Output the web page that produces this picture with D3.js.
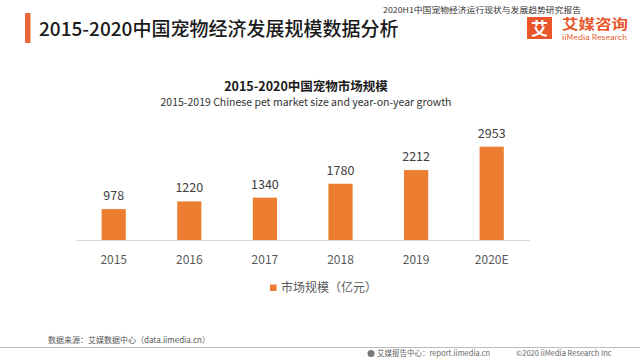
<!DOCTYPE html>
<html>
<head>
<meta charset="utf-8">
<script src="https://cdn.jsdelivr.net/npm/d3@7"></script>
<style>
  html, body { margin: 0; padding: 0; background: #fff; }
  svg { display: block; font-family: "Noto Sans CJK SC", "Noto Sans", sans-serif; }
</style>
</head>
<body>
<svg id="chart" width="640" height="360"></svg>
<script>
const categories = ["2015", "2016", "2017", "2018", "2019", "2020E"];
const marketSize = [978, 1220, 1340, 1780, 2212, 2953];
const seriesName = "市场规模（亿元）";
const pageTitle = "2015-2020中国宠物经济发展规模数据分析";
const chartTitle = "2015-2020中国宠物市场规模";
const chartSubtitle = "2015-2019 Chinese pet market size and year-on-year growth";
const reportTitle = "2020H1中国宠物经济运行现状与发展趋势研究报告";
const sourceText = "数据来源：艾媒数据中心（data.iimedia.cn）";

const svg = d3.select("#chart");
const orange = "#ed7d31";
const brand = "#e8562a";

svg.append("rect").attr("width", 640).attr("height", 360).attr("fill", "#fff");

// Page header
svg.append("rect").attr("x", 25).attr("y", 13).attr("width", 5.5).attr("height", 30).attr("fill", "#e8673a");
svg.append("text").attr("x", 39).attr("y", 35.5).attr("font-size", 19).attr("font-weight", 500)
  .attr("fill", "#1a1a1a").text(pageTitle);
svg.append("text").attr("x", 383).attr("y", 12.5).attr("font-size", 7.5).attr("fill", "#333")
  .attr("textLength", 198).attr("lengthAdjust", "spacingAndGlyphs").text(reportTitle);

// Logo
svg.append("rect").attr("x", 527).attr("y", 17).attr("width", 25).attr("height", 22).attr("fill", brand);
svg.append("text").attr("x", 539.5).attr("y", 34.5).attr("text-anchor", "middle").attr("font-size", 17)
  .attr("font-weight", 700).attr("fill", "#fff").text("艾");
svg.append("text").attr("x", 562).attr("y", 28.5).attr("font-size", 13.5).attr("font-weight", 700)
  .attr("textLength", 66).attr("lengthAdjust", "spacingAndGlyphs")
  .attr("fill", brand).text("艾媒咨询");
svg.append("text").attr("x", 562).attr("y", 39.5).attr("font-size", 7).attr("fill", brand)
  .attr("textLength", 65).attr("lengthAdjust", "spacingAndGlyphs").text("iiMedia Research");

// Chart titles
svg.append("text").attr("x", 306).attr("y", 91).attr("text-anchor", "middle").attr("font-size", 12.5)
  .attr("font-weight", 700).attr("fill", "#1a1a1a").text(chartTitle);
svg.append("text").attr("x", 306).attr("y", 106).attr("text-anchor", "middle").attr("font-size", 10.5)
  .attr("fill", "#333").text(chartSubtitle);

// Scales
const x = d3.scaleBand().domain(categories).range([75.9, 529.5]).paddingInner(0.68).paddingOuter(0.34);
const y = d3.scaleLinear().domain([0, 3000]).range([240, 145.2]);

const data = categories.map((c, i) => ({ cat: c, v: marketSize[i] }));

svg.append("g").selectAll("rect").data(data).join("rect")
  .attr("x", d => x(d.cat)).attr("y", d => y(d.v))
  .attr("width", x.bandwidth()).attr("height", d => y(0) - y(d.v))
  .attr("fill", orange);

svg.append("g").selectAll("text").data(data).join("text")
  .attr("x", d => x(d.cat) + x.bandwidth() / 2).attr("y", d => y(d.v) - 9)
  .attr("text-anchor", "middle").attr("font-size", 12.5).attr("fill", "#404040")
  .text(d => d.v);

const axis = svg.append("g").attr("transform", `translate(0,${y(0)})`)
  .call(d3.axisBottom(x).tickSize(0).tickPadding(15));
axis.select(".domain").attr("stroke", "#d9d9d9");
axis.selectAll("text").attr("font-size", 12).attr("fill", "#595959")
  .attr("font-family", "'Noto Sans CJK SC', sans-serif");

// Legend
svg.append("rect").attr("x", 270).attr("y", 284.5).attr("width", 6.5).attr("height", 6.5).attr("fill", orange);
svg.append("text").attr("x", 281).attr("y", 292).attr("font-size", 12).attr("fill", "#595959").text(seriesName);

// Footer
svg.append("text").attr("x", 48).attr("y", 343).attr("font-size", 8).attr("fill", "#555").text(sourceText);
svg.append("line").attr("x1", 0).attr("x2", 640).attr("y1", 347.5).attr("y2", 347.5)
  .attr("stroke", "#bbb").attr("stroke-width", 1);
svg.append("circle").attr("cx", 371).attr("cy", 353.5).attr("r", 3.5).attr("fill", "#777");
svg.append("text").attr("x", 377).attr("y", 356).attr("font-size", 7.5).attr("fill", "#666").text("艾媒报告中心：report.iimedia.cn");
svg.append("text").attr("x", 516).attr("y", 356).attr("font-size", 7.5).attr("fill", "#666").text("©2020  iiMedia Research  Inc");
</script>
</body>
</html>
